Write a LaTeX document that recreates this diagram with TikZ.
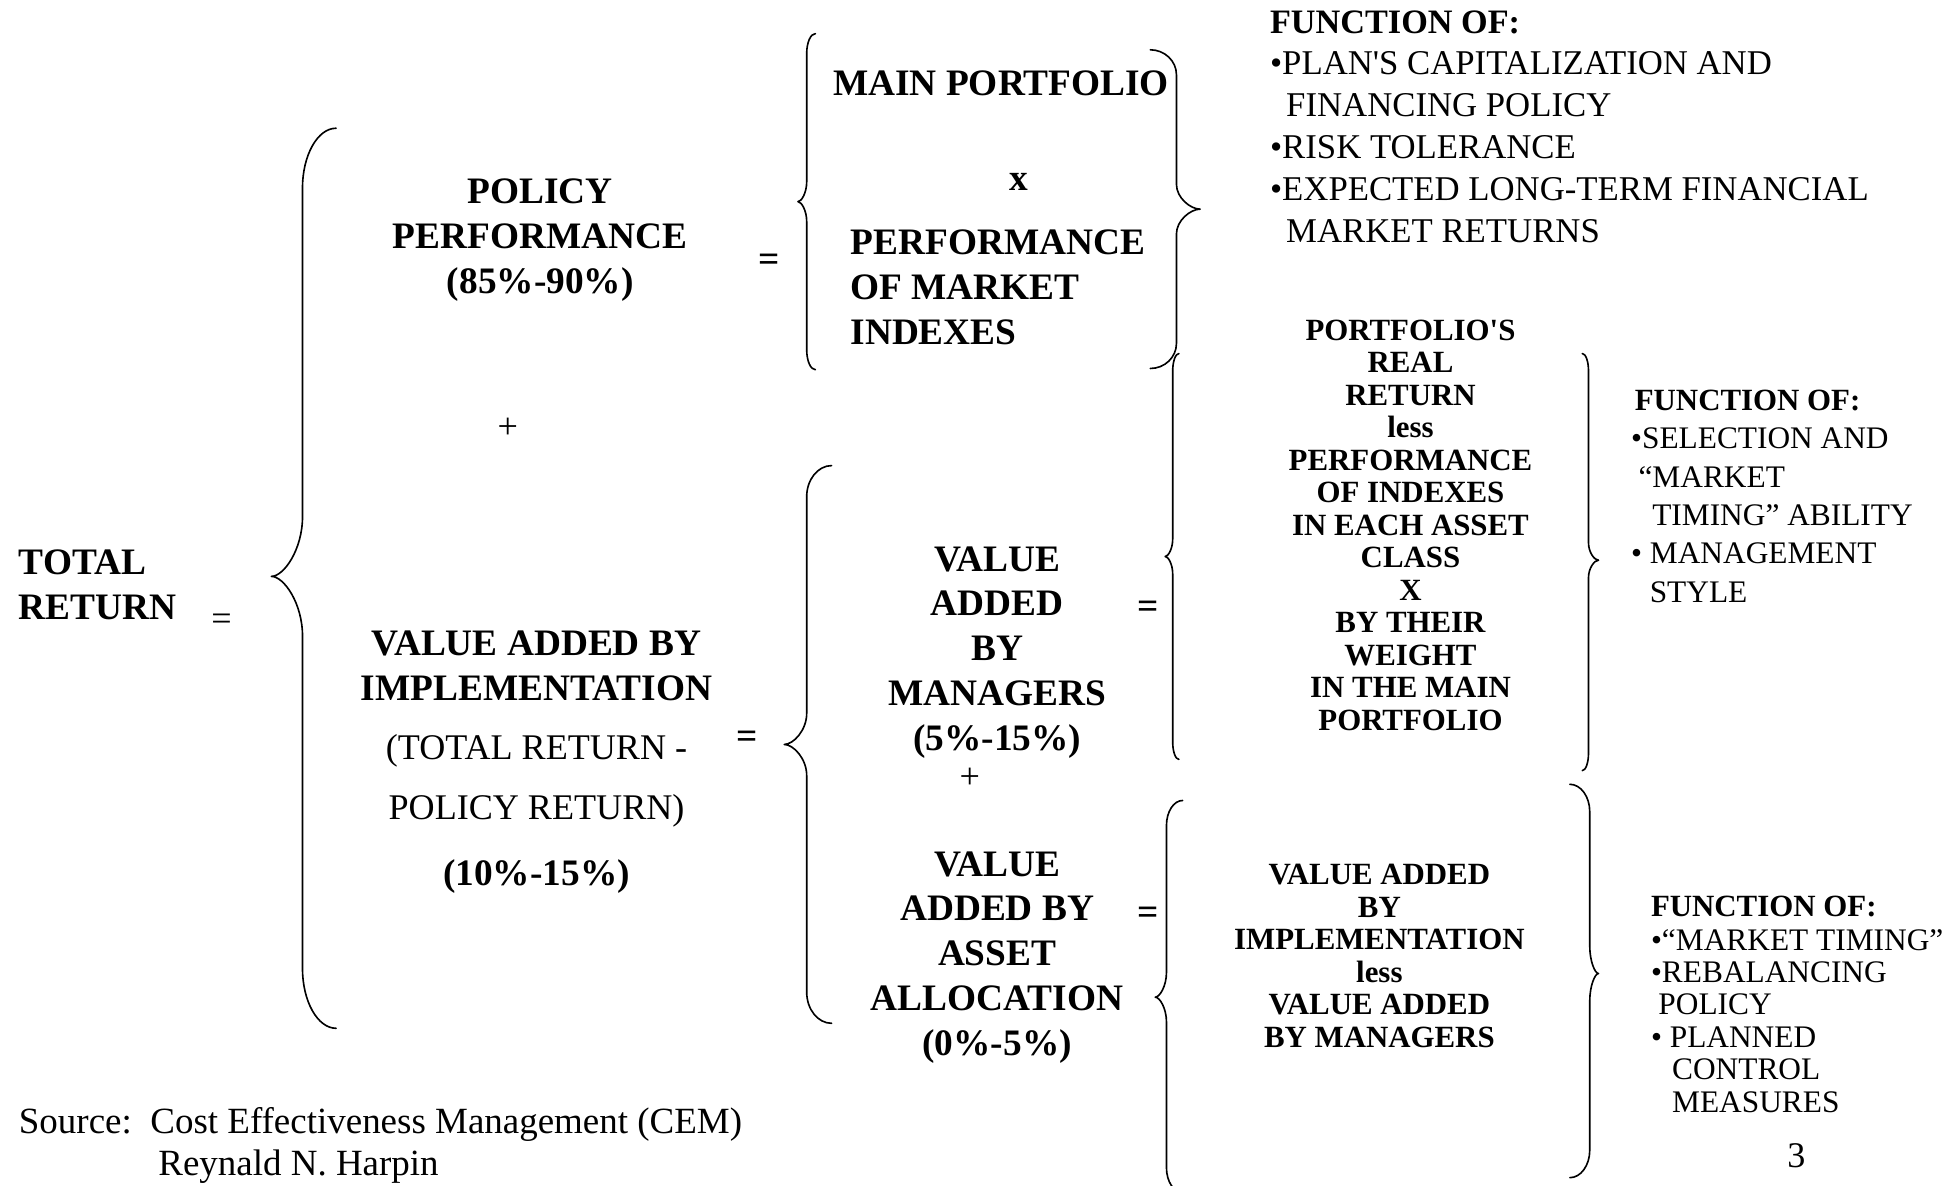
\documentclass[tikz,border=0pt]{standalone}
\usepackage{fontspec}
\setmainfont{Liberation Serif}
\usepackage{tikz}

% curly brace: end x, stem x, tip x, top y, tip y, bottom y, bend
\newcommand{\curlybrace}[7]{%
  \draw[bracestroke] (#1,#4)
    .. controls ({#2+0.45*(#1-#2)},#4) and (#2,{#4+0.45*#7}) .. (#2,{#4+#7})
    -- (#2,{#5-#7})
    .. controls (#2,{#5-0.45*#7}) and ({#3+0.4*(#2-#3)},#5) .. (#3,#5)
    .. controls ({#3+0.4*(#2-#3)},#5) and (#2,{#5+0.45*#7}) .. (#2,{#5+#7})
    -- (#2,{#6-#7})
    .. controls (#2,{#6-0.45*#7}) and ({#2+0.45*(#1-#2)},#6) .. (#1,#6);}

\begin{document}
\begin{tikzpicture}[x=1pt,y=-1pt,
  bracestroke/.style={line width=1.3pt, line cap=round, line join=round},
  big/.style={font=\fontsize{30}{36}\selectfont\bfseries, inner sep=0pt},
  bigtxt/.style={font=\fontsize{29}{34}\selectfont, inner sep=0pt},
  small/.style={font=\fontsize{24.8}{26.1}\selectfont\bfseries, inner sep=0pt},
  smalltxt/.style={font=\fontsize{25.2}{26}\selectfont, inner sep=0pt}]
  \useasboundingbox (0,0) rectangle (1568,952);

  % total return splits in two
  \node[big, align=left, anchor=west] (total) at (15,470) {TOTAL\\RETURN};
  \node[bigtxt] (eqtotal) at (178,500) {=};
  \curlybrace{270}{243}{218}{103}{463}{826}{48}

  \node[big, align=center] (policy) at (434,193) {POLICY\\PERFORMANCE\\(85\%-90\%)};
  \node[big] (eqpolicy) at (618,211) {=};
  \node[bigtxt] (plusimpl) at (408,344) {+};
  \node[big, align=center] (impl) at (431,535) {VALUE ADDED BY\\IMPLEMENTATION};
  \node[bigtxt, align=center, font=\fontsize{29}{48}\selectfont] (impldef) at (431,627)
    {(TOTAL RETURN -\\POLICY RETURN)};
  \node[big] (implpct) at (431,704) {(10\%-15\%)};
  \node[big] (eqimpl) at (600,594) {=};

  % policy = main portfolio x market indexes
  \curlybrace{655}{648}{641}{27}{162}{297}{16}
  \node[big, anchor=west] (mainpf) at (669,67) {MAIN PORTFOLIO};
  \node[big] (times) at (818,146) {x};
  \node[big, align=left, anchor=west] (perfmkt) at (683,231) {PERFORMANCE\\OF MARKET\\INDEXES};
  \curlybrace{924}{945}{964}{40}{168}{296}{20}
  \node[big, anchor=west, font=\fontsize{27.5}{30}\selectfont\bfseries] (fnpolicy) at (1020,18) {FUNCTION OF:};
  \node[smalltxt, align=left, anchor=west, font=\fontsize{27.9}{33.8}\selectfont] (fnpolicylist) at (1020,118)
    {•PLAN\textquotesingle S CAPITALIZATION AND\\\hspace*{13pt}FINANCING POLICY\\•RISK TOLERANCE\\
     •EXPECTED LONG-TERM FINANCIAL\\\hspace*{13pt}MARKET RETURNS};

  % implementation = managers + asset allocation
  \curlybrace{668}{648}{630}{374}{598}{822}{25}
  \node[big, align=center] (mgr) at (801,524) {VALUE\\ADDED\\BY\\MANAGERS\\(5\%-15\%)};
  \node[bigtxt] (plusalloc) at (779,625) {+};
  \node[big, align=center] (alloc) at (801,769) {VALUE\\ADDED BY\\ASSET\\ALLOCATION\\(0\%-5\%)};
  \node[big] (eqmgr) at (922,490) {=};
  \node[big] (eqalloc) at (922,736) {=};

  % managers
  \curlybrace{947}{942}{936}{284}{447}{610}{14}
  \node[small, align=center] (realret) at (1133,422)
    {PORTFOLIO\textquotesingle S\\REAL\\RETURN\\less\\PERFORMANCE\\OF INDEXES\\IN EACH ASSET\\CLASS\\X\\BY THEIR\\WEIGHT\\IN THE MAIN\\PORTFOLIO};
  \curlybrace{1271}{1276}{1284}{284}{450}{619}{14}
  \node[small, anchor=west] (fnmgr) at (1313,322) {FUNCTION OF:};
  \node[smalltxt, align=left, anchor=west, font=\fontsize{25.2}{30.8}\selectfont] (fnmgrlist) at (1310,414)
    {•SELECTION AND\\\hspace*{6pt}“MARKET\\\hspace*{17pt}TIMING” ABILITY\\• MANAGEMENT\\\hspace*{15pt}STYLE};

  % asset allocation
  \curlybrace{950}{937}{928}{643}{801}{958}{20}
  \node[small, align=center] (implless) at (1108,768)
    {VALUE ADDED\\BY\\IMPLEMENTATION\\less\\VALUE ADDED\\BY MANAGERS};
  \curlybrace{1261}{1277}{1284}{630}{782}{946}{22}
  \node[small, anchor=west] (fnalloc) at (1326,728) {FUNCTION OF:};
  \node[smalltxt, align=left, anchor=west] (fnalloclist) at (1326,820)
    {•“MARKET TIMING”\\•REBALANCING\\\hspace*{6pt}POLICY\\• PLANNED\\\hspace*{17pt}CONTROL\\\hspace*{17pt}MEASURES};

  % footer
  \node[bigtxt, anchor=west, font=\fontsize{29.7}{34}\selectfont] (source) at (15,903)
    {Source:\ \ Cost Effectiveness Management (CEM)};
  \node[bigtxt, anchor=west, font=\fontsize{29.7}{34}\selectfont] (author) at (127,937) {Reynald N. Harpin};
  \node[bigtxt] (pageno) at (1443,928) {3};
\end{tikzpicture}
\end{document}
